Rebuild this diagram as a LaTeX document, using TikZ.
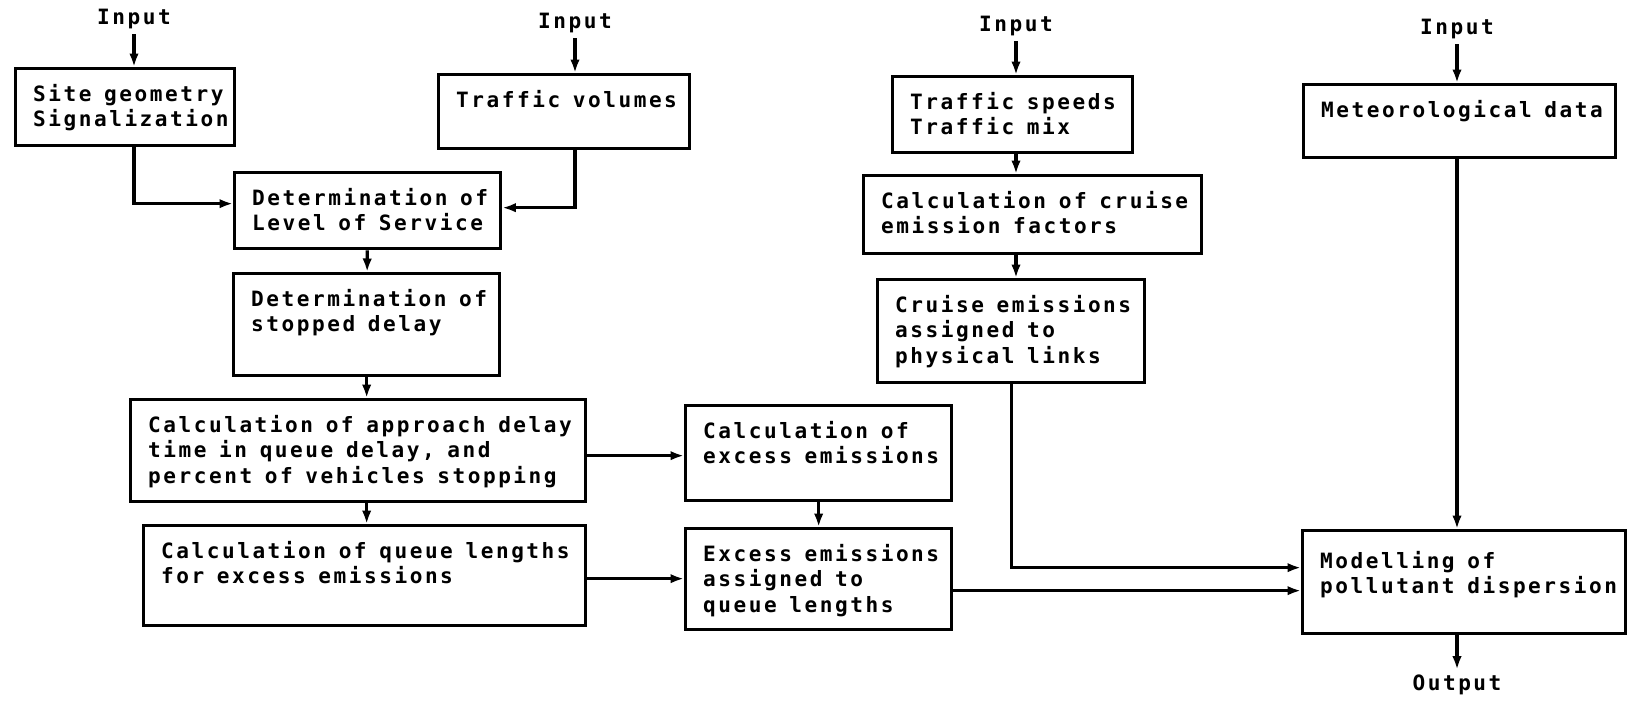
\documentclass[tikz,border=0pt]{standalone}
\usepackage{fontspec}
\usetikzlibrary{arrows.meta}
\newfontfamily\chartfont[LetterSpace=12]{DejaVu Sans Mono}

\begin{document}
\begin{tikzpicture}[x=0.2mm, y=-0.2mm,
    every node/.style={font=\fontsize{12pt}{14.4pt}\chartfont\bfseries},
    stagebox/.style={draw, line width=1.9pt, anchor=north west, align=left,
      inner sep=0pt, text height=6.6mm,
      execute at begin node={\leftskip=3.5mm\spaceskip=7.2pt\relax}},
    tag/.style={inner sep=1mm},
    flow/.style={line width=1.8pt, -{Latex[length=2.7mm, width=1.9mm]}}]
  \useasboundingbox (0,0) rectangle (1627,702);

  % input labels
  \node[tag] (in1) at (134,19) {Input};
  \node[tag] (in2) at (575,23) {Input};
  \node[tag] (in3) at (1016,26) {Input};
  \node[tag] (in4) at (1457,29) {Input};
  \node[tag] (out) at (1457,685) {Output};

  % intersection delay chain
  \node[stagebox, text width=43.8mm, text depth=8.8mm] (site) at (14,67) {Site geometry\\Signalization};
  \node[stagebox, text width=50.2mm, text depth=8.2mm] (volumes) at (437,73) {Traffic volumes};
  \node[stagebox, text width=53.2mm, text depth=8.6mm] (service) at (233,171) {Determination of\\Level of Service};
  \node[stagebox, text width=53.2mm, text depth=13.8mm] (stopdelay) at (232,272) {Determination of\\stopped delay};
  \node[stagebox, text width=91mm, text depth=13.8mm] (approach) at (129,398) {Calculation of approach delay\\time in queue delay, and\\percent of vehicles stopping};
  \node[stagebox, text width=88.4mm, text depth=13.4mm] (queue) at (142,524) {Calculation of queue lengths\\for excess emissions};
  \node[stagebox, text width=53.2mm, text depth=12.4mm] (excess) at (684,404) {Calculation of\\excess emissions};
  \node[stagebox, text width=53.2mm, text depth=13.6mm] (queueem) at (684,527) {Excess emissions\\assigned to\\queue lengths};

  % cruise emissions chain
  \node[stagebox, text width=48mm, text depth=8.6mm] (speeds) at (891,75) {Traffic speeds\\Traffic mix};
  \node[stagebox, text width=67.6mm, text depth=9mm] (cruise) at (862,174) {Calculation of cruise\\emission factors};
  \node[stagebox, text width=53.4mm, text depth=14mm] (links) at (876,278) {Cruise emissions\\assigned to\\physical links};

  % dispersion
  \node[stagebox, text width=62.4mm, text depth=8mm] (meteo) at (1302,83) {Meteorological data};
  \node[stagebox, text width=64.6mm, text height=7.6mm, text depth=13mm] (dispersion) at (1301,529) {Modelling of\\pollutant dispersion};

  \draw[flow] (in1) -- (in1 |- site.north);
  \draw[flow] (in1 |- site.south) |- ([yshift=1.4mm]service.west);
  \draw[flow] (in2) -- (in2 |- volumes.north);
  \draw[flow] (in2 |- volumes.south) |- ([yshift=0.6mm]service.east);
  \draw[flow] (service) -- (stopdelay);
  \draw[flow] (stopdelay) -- (stopdelay |- approach.north);
  \draw[flow] (stopdelay |- approach.south) -- (stopdelay |- queue.north);
  \draw[flow] ([yshift=-1mm]approach.east) -- ([yshift=-1mm]approach.east -| excess.west);
  \draw[flow] (excess) -- (queueem);
  \draw[flow] ([yshift=-0.6mm]queue.east) -- ([yshift=-0.6mm]queue.east -| queueem.west);

  \draw[flow] (in3) -- (in3 |- speeds.north);
  \draw[flow] (in3 |- speeds.south) -- (in3 |- cruise.north);
  \draw[flow] (in3 |- cruise.south) -- (in3 |- links.north);
  \draw[flow] (links.south) |- ([yshift=2.9mm]dispersion.west);
  \draw[flow] ([yshift=-1.7mm]dispersion.west -| queueem.east) -- ([yshift=-1.7mm]dispersion.west);

  \draw[flow] (in4) -- (in4 |- meteo.north);
  \draw[flow] (in4 |- meteo.south) -- (in4 |- dispersion.north);
  \draw[flow] (in4 |- dispersion.south) -- (out);
\end{tikzpicture}
\end{document}
